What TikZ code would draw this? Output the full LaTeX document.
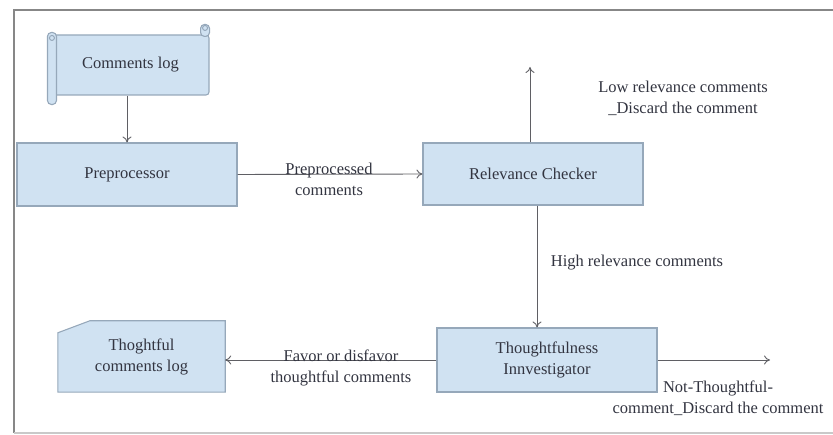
\documentclass[tikz,border=0pt]{standalone}
\usepackage{fontspec}
\setmainfont{Liberation Serif}
\usepackage{xcolor}
\usetikzlibrary{
    arrows,
    arrows.meta,
    shapes,
    positioning,
    backgrounds,
    calc
}
\definecolor{boxfill}{RGB}{208,226,242}
\definecolor{boxline}{RGB}{150,168,186}
\definecolor{txtgray}{RGB}{50,52,64}
\definecolor{wire}{RGB}{95,95,100}
\definecolor{framegray}{RGB}{135,135,135}

\begin{document}
\begin{tikzpicture}[x=1pt, y=-1pt,
        font=\fontsize{16.5}{21}\selectfont, text=txtgray,
        box/.style={draw=boxline, fill=boxfill, line width=1.1pt, inner sep=0pt, align=center},
        roll/.style={draw=boxline, fill=boxfill, line width=1.1pt, rounded corners=4pt},
        flow/.style={-{To[length=6pt,width=9pt]}, draw=wire, line width=0.9pt},
        lbl/.style={align=center}]
                \useasboundingbox (0,0) rectangle (833,435);
                \draw[framegray, line width=1.8pt] (833,10) -- (14,10) -- (14,433);
                \draw[framegray!45, line width=1.5pt] (14,433) -- (833,433);

                \node[box, rounded corners=3pt, minimum width=157pt, minimum height=60pt] (clog) at (130.5,65) {Comments log};
                \draw[roll] ([xshift=-4pt,yshift=2pt]clog.north west) rectangle ([xshift=5pt,yshift=-9pt]clog.south west);
                \draw[roll] ([xshift=-9pt,yshift=10pt]clog.north east) rectangle ([yshift=-2pt]clog.north east);
                \draw[boxline, line width=1pt] ([xshift=0.5pt,yshift=-3.5pt]clog.north west) circle[radius=2.5pt];
                \draw[boxline, line width=1pt] ([xshift=-4.5pt,yshift=6.5pt]clog.north east) circle[radius=2.5pt];

                \node[box, minimum width=220pt, minimum height=63pt] (pre) at (127,174.5) {Preprocessor};
                \node[box, minimum width=220pt, minimum height=62pt] (rc) at (533,174) {Relevance Checker};
                \node[box, minimum width=220pt, minimum height=64pt] (ti) at (547,360) {Thoughtfulness\\Innvestigator};
                \node[align=center, minimum width=167pt, minimum height=71pt, inner sep=0pt] (tcl) at (141.5,356.5) {Thoghtful\\comments log};
                \begin{pgfonlayer}{background}
                    \filldraw[draw=boxline, fill=boxfill, line width=1.1pt] ([yshift=-12pt]tcl.north west) -- ([xshift=32pt]tcl.north west) -- (tcl.north east) -- (tcl.south east) -- (tcl.south west) -- cycle;
                \end{pgfonlayer}

                \coordinate (lowend) at (530,67);
                \coordinate (notend) at (770,360);

                \draw[flow] (clog.south -| pre.north) -- (pre.north);
                \draw[flow] (pre.east) -- (rc.west);
                \node[lbl] (prelbl) at (329,179) {Preprocessed\\comments};
                \draw[flow] (rc.north -| lowend) -- (lowend);
                \node[lbl] (lowlbl) at (683,98) {Low relevance comments\\\_Discard the comment};
                \draw[flow] ([xshift=4pt]rc.south) -- ([xshift=4pt]rc.south |- ti.north);
                \node[lbl] (hilbl) at (637,263) {High relevance comments};
                \draw[flow] (ti.west) -- (ti.west -| tcl.east);
                \node[lbl] (favlbl) at (341,368) {Favor or disfavor\\thoughtful comments};
                \draw[flow] (ti.east) -- (notend);
                \node[lbl] (notlbl) at (718,398) {Not-Thoughtful-\\comment\_Discard the comment};
\end{tikzpicture}
\end{document}
